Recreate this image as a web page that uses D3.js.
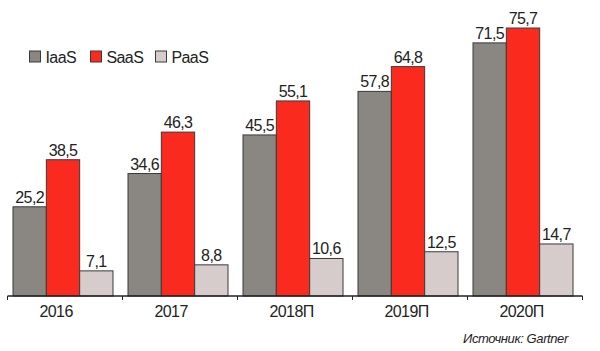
<!DOCTYPE html>
<html><head><meta charset="utf-8">
<script src="https://cdn.jsdelivr.net/npm/d3@7"></script>
<style>body{margin:0;background:#fff}svg{display:block}</style>
</head><body>
<svg id="c" width="600" height="351"></svg>
<script>
const years = ["2016","2017","2018П","2019П","2020П"];
const series = ["IaaS","SaaS","PaaS"];
const iaas = [25.2,34.6,45.5,57.8,71.5];
const saas = [38.5,46.3,55.1,64.8,75.7];
const paas = [7.1,8.8,10.6,12.5,14.7];
const colors = ["#8a8783","#fa2a1e","#d6cccc"];
const source = "Источник: Gartner";

const values = [iaas, saas, paas];
const fmt = v => v.toFixed(1).replace(".", ",");
const font = "'Liberation Sans', Arial, sans-serif";

const svg = d3.select("#c");
const x0 = d3.scaleBand().domain(years).range([7.5, 582.5]).padding(0);
const x1 = d3.scaleBand().domain(series).range([5.5, 105.5]).padding(0);
const y = d3.scaleLinear().domain([0, 80]).range([296, 12.8]);

// bars
years.forEach((yr, i) => {
  const g = svg.append("g").attr("transform", `translate(${x0(yr)},0)`);
  series.forEach((s, j) => {
    const v = values[j][i];
    g.append("rect")
      .attr("x", x1(s)).attr("y", y(v))
      .attr("width", x1.bandwidth()).attr("height", y(0) - y(v))
      .attr("fill", colors[j]).attr("stroke", "#3a3a3a").attr("stroke-width", 1);
    g.append("text")
      .attr("x", x1(s) + x1.bandwidth() / 2).attr("y", y(v) - 4)
      .attr("text-anchor", "middle")
      .attr("font-family", font).attr("font-size", 16).attr("letter-spacing", -0.6)
      .attr("fill", "#222").text(fmt(v));
  });
});

// axis
const ax = svg.append("g");
ax.append("line").attr("x1", x0.range()[0]).attr("x2", x0.range()[1])
  .attr("y1", y(0)).attr("y2", y(0)).attr("stroke", "#222").attr("stroke-width", 1.5);
const edges = years.map(yr => x0(yr)).concat([x0.range()[1]]);
ax.selectAll("line.tick").data(edges).enter().append("line")
  .attr("x1", d => d).attr("x2", d => d).attr("y1", y(0)).attr("y2", y(0) + 4)
  .attr("stroke", "#222").attr("stroke-width", 1);
ax.selectAll("text").data(years).enter().append("text")
  .attr("x", d => x0(d) + 32).attr("y", 317)
  .attr("font-family", font).attr("font-size", 16).attr("letter-spacing", -0.6)
  .attr("fill", "#222").text(d => d);

// legend
const legX = [29.5, 90.5, 155.5];
const leg = svg.append("g");
series.forEach((s, j) => {
  leg.append("rect").attr("x", legX[j]).attr("y", 51).attr("width", 11).attr("height", 11)
    .attr("fill", colors[j]).attr("stroke", "#3a3a3a").attr("stroke-width", 1);
  leg.append("text").attr("x", legX[j] + 16).attr("y", 62.5)
    .attr("font-family", font).attr("font-size", 16).attr("letter-spacing", -0.6)
    .attr("fill", "#222").text(s);
});

// source
svg.append("text").attr("x", 463).attr("y", 343)
  .attr("font-family", font).attr("font-size", 13).attr("font-style", "italic")
  .attr("letter-spacing", -0.4).attr("fill", "#222").text(source);
</script>
</body></html>
